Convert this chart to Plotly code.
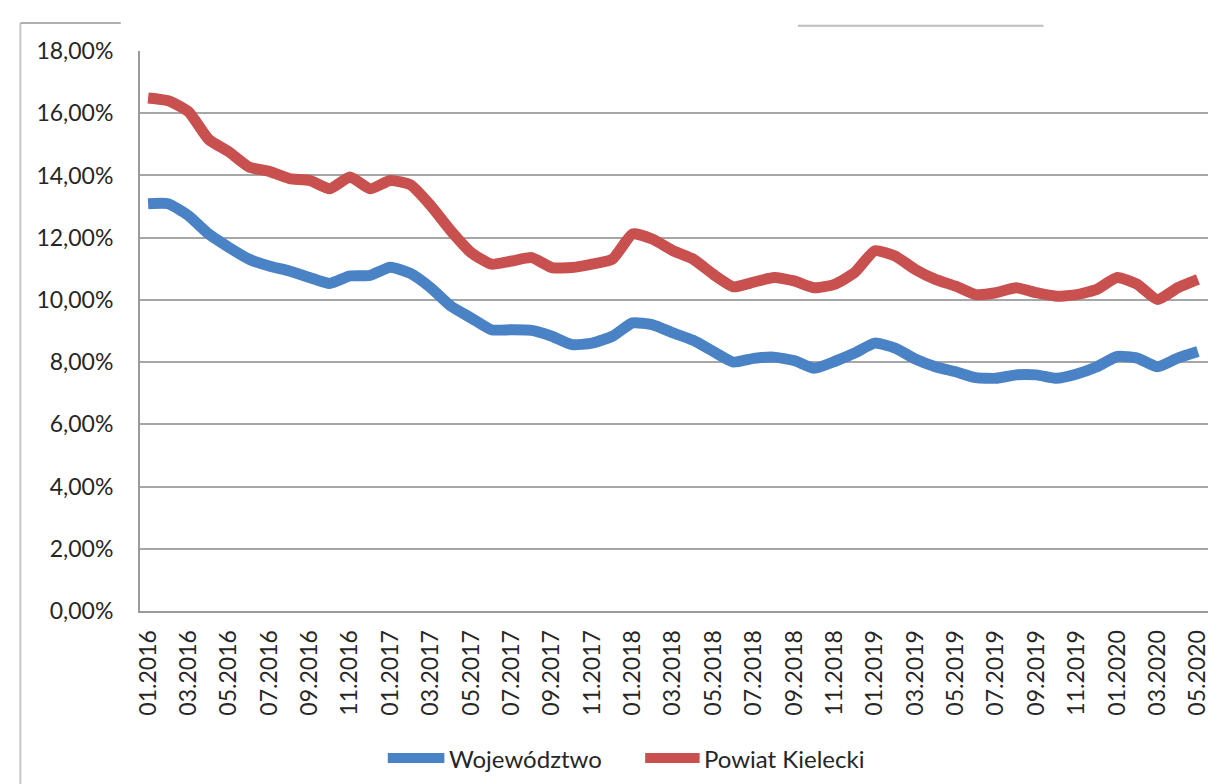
import plotly.graph_objects as go

months = [
    "01.2016", "02.2016", "03.2016", "04.2016", "05.2016", "06.2016",
    "07.2016", "08.2016", "09.2016", "10.2016", "11.2016", "12.2016",
    "01.2017", "02.2017", "03.2017", "04.2017", "05.2017", "06.2017",
    "07.2017", "08.2017", "09.2017", "10.2017", "11.2017", "12.2017",
    "01.2018", "02.2018", "03.2018", "04.2018", "05.2018", "06.2018",
    "07.2018", "08.2018", "09.2018", "10.2018", "11.2018", "12.2018",
    "01.2019", "02.2019", "03.2019", "04.2019", "05.2019", "06.2019",
    "07.2019", "08.2019", "09.2019", "10.2019", "11.2019", "12.2019",
    "01.2020", "02.2020", "03.2020", "04.2020", "05.2020",
]

wojewodztwo = [
    13.09, 13.09, 12.71, 12.12, 11.69, 11.31, 11.09, 10.93, 10.72, 10.53, 10.77, 10.79,
    11.05, 10.85, 10.39, 9.80, 9.42, 9.04, 9.04, 9.02, 8.83, 8.56, 8.61, 8.83,
    9.26, 9.20, 8.94, 8.70, 8.34, 8.00, 8.12, 8.16, 8.05, 7.80, 8.02, 8.29,
    8.61, 8.45, 8.10, 7.85, 7.69, 7.50, 7.48, 7.59, 7.59, 7.48, 7.62, 7.85,
    8.18, 8.13, 7.85, 8.13, 8.34,
]

powiat_kielecki = [
    16.49, 16.40, 16.05, 15.16, 14.76, 14.27, 14.13, 13.90, 13.84, 13.57, 13.95, 13.57,
    13.84, 13.70, 13.03, 12.22, 11.52, 11.15, 11.25, 11.36, 11.04, 11.04, 11.15, 11.31,
    12.12, 11.95, 11.58, 11.31, 10.82, 10.42, 10.57, 10.72, 10.61, 10.39, 10.50, 10.88,
    11.58, 11.41, 10.98, 10.66, 10.44, 10.17, 10.23, 10.39, 10.23, 10.12, 10.17, 10.34,
    10.72, 10.50, 10.01, 10.39, 10.66,
]

series_names = ["Województwo", "Powiat Kielecki"]
series_colors = ["#4a82c6", "#c8504e"]

y_ticks = [0, 2, 4, 6, 8, 10, 12, 14, 16, 18]
y_tick_text = ["0,00%", "2,00%", "4,00%", "6,00%", "8,00%",
               "10,00%", "12,00%", "14,00%", "16,00%", "18,00%"]

x_idx = list(range(len(months)))
tick_idx = x_idx[::2]
tick_text = months[::2]

fig = go.Figure()
for name, vals, col in zip(series_names, [wojewodztwo, powiat_kielecki], series_colors):
    fig.add_trace(go.Scatter(
        x=x_idx, y=vals, name=name, mode="lines", showlegend=False,
        line=dict(color=col, width=11, shape="spline", smoothing=0.5),
    ))

fig.update_layout(
    width=1220, height=784,
    margin=dict(l=132, r=20, t=43, b=181, autoexpand=False),
    paper_bgcolor="white", plot_bgcolor="white",
    font=dict(family="Lato, 'Open Sans', sans-serif", color="#262626"),
    showlegend=False,
    xaxis=dict(
        range=[-0.4, 52.5], automargin=False,
        tickmode="array", tickvals=tick_idx, ticktext=tick_text,
        tickangle=-90,
        tickfont=dict(family="Lato, sans-serif", size=23, color="#262626"),
        showgrid=False, zeroline=False,
        showline=True, linecolor="#9a9a9a", linewidth=2,
        ticks="", ticklabelstandoff=8,
    ),
    yaxis=dict(
        range=[0, 18], automargin=False,
        tickmode="array", tickvals=y_ticks, ticktext=y_tick_text,
        tickfont=dict(family="Lato, sans-serif", size=23, color="#262626"),
        showgrid=True, gridcolor="#a6a6a6", gridwidth=2,
        zeroline=False,
        showline=True, linecolor="#9a9a9a", linewidth=2,
        ticks="", ticklabelstandoff=20,
    ),
)

# Custom legend (longer sample lines, as in the reference)
legend_y = -0.2625
legend_items = [(0.232, 0.285, 0.2875), (0.473, 0.524, 0.5265)]
for (x0, x1, xt), name, col in zip(legend_items, series_names, series_colors):
    fig.add_shape(type="line", xref="paper", yref="paper",
                  x0=x0, x1=x1, y0=legend_y, y1=legend_y,
                  line=dict(color=col, width=10))
    fig.add_annotation(xref="paper", yref="paper", x=xt, y=legend_y,
                       xanchor="left", yanchor="middle", showarrow=False,
                       text=name, font=dict(size=24, family="Lato, sans-serif", color="#262626"))

# Outer frame fragments of the scanned chart
fig.add_shape(type="line", xref="paper", yref="paper",
              x0=-0.112, x1=-0.112, y0=1.05, y1=-0.33,
              line=dict(color="#c8c8c8", width=2))
fig.add_shape(type="line", xref="paper", yref="paper",
              x0=-0.112, x1=-0.018, y0=1.05, y1=1.05,
              line=dict(color="#b0b0b0", width=2))
fig.add_shape(type="line", xref="paper", yref="paper",
              x0=0.616, x1=0.846, y0=1.045, y1=1.045,
              line=dict(color="#bdbdbd", width=2))

fig.write_html("out.html")
